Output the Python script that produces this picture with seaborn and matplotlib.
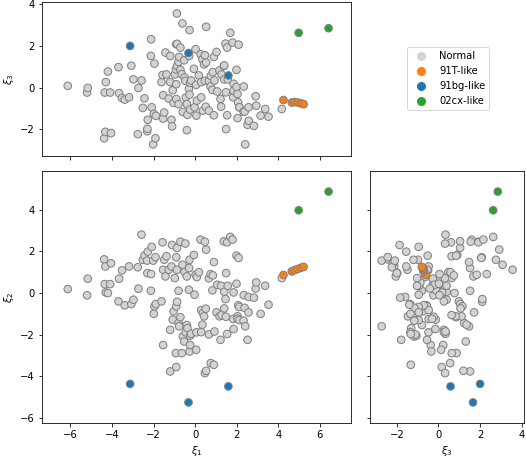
import numpy as np
import pandas as pd
import matplotlib
matplotlib.use("Agg")
import matplotlib.pyplot as plt
from matplotlib.lines import Line2D
import seaborn as sns

# normal SNe: latent coordinates
xi1 = [-6.13, -5.2, -5.17, -4.38, -4.35, -4.32, -4.3, -4.2, -4.09, -4.05,
       -3.69, -3.66, -3.52, -3.39, -3.18, -3.07, -2.97, -2.76, -2.73, -2.58,
       -2.52, -2.44, -2.31, -2.3, -2.28, -2.13, -2.12, -2.09, -2.02, -1.99,
       -1.96, -1.91, -1.89, -1.62, -1.57, -1.54, -1.54, -1.49, -1.43, -1.38,
       -1.27, -1.2, -1.2, -1.14, -1.11, -1.08, -1.04, -0.98, -0.93, -0.91,
       -0.91, -0.91, -0.88, -0.87, -0.87, -0.8, -0.8, -0.77, -0.71, -0.71,
       -0.64, -0.61, -0.59, -0.53, -0.51, -0.47, -0.45, -0.4, -0.4, -0.37,
       -0.3, -0.29, -0.27, -0.27, -0.24, -0.24, -0.19, -0.06, -0.03, 0.02,
       0.05, 0.06, 0.08, 0.18, 0.26, 0.29, 0.29, 0.35, 0.37, 0.43,
       0.47, 0.47, 0.51, 0.53, 0.53, 0.66, 0.66, 0.74, 0.75, 0.83,
       0.85, 0.9, 0.9, 0.93, 1.03, 1.06, 1.17, 1.22, 1.25, 1.27,
       1.38, 1.4, 1.4, 1.46, 1.48, 1.49, 1.54, 1.54, 1.57, 1.69,
       1.8, 1.83, 1.85, 1.85, 1.99, 1.99, 2.04, 2.04, 2.07, 2.09,
       2.13, 2.13, 2.33, 2.34, 2.38, 2.41, 2.52, 2.57, 2.58, 2.83,
       2.91, 2.94, 3.15, 3.37, 3.53, 4.17]
xi2 = [0.19, -0.11, 0.69, 1.62, 0.43, 1.28, 0.03, 0.0, 0.43, 1.43,
       -0.4, 0.69, 1.09, -0.59, 1.28, -0.53, -0.32, 1.24, 0.21, 2.81,
       1.6, 1.8, 1.56, 0.96, 1.99, 0.11, 0.91, 2.22, 1.56, -1.0,
       -0.64, 1.73, -0.53, -0.4, 2.44, 1.12, -2.5, 1.6, 0.8, 1.77,
       1.12, -1.77, -3.77, 1.28, 2.31, -1.28, -0.88, 0.72, -2.89, 1.72,
       -3.56, -0.64, 1.12, 2.17, -0.42, 0.11, -1.44, -1.6, 2.47, -1.16,
       -2.89, 1.36, -2.09, -2.33, 1.01, 2.38, -1.89, 0.8, -1.54, -1.69,
       0.16, 1.2, 1.6, -2.81, -2.05, -2.5, -1.96, 1.83, -0.08, 0.88,
       -2.73, -1.89, 0.77, 1.0, 2.57, -0.82, -1.88, -1.52, -0.96, -1.12,
       2.47, -3.85, -0.75, 2.09, -3.74, 0.71, -1.99, 0.91, -3.37, 0.13,
       0.85, 1.49, -3.45, -1.85, -0.93, 0.4, -1.12, -2.25, 0.35, -1.06,
       2.49, 0.06, -0.74, -0.29, -1.14, 0.96, 2.44, -1.97, 0.35, 2.7,
       2.57, -1.25, 0.03, -1.73, 0.45, 1.8, -1.12, -1.24, -0.59, 1.69,
       -0.67, -1.3, -1.33, -0.1, -0.71, -1.6, -2.25, -0.93, -0.19, -0.22,
       0.22, 0.51, -1.0, 0.35, -0.56, 0.72]
xi3 = [0.08, -0.24, -0.02, -2.44, -0.24, -2.13, 0.26, 0.77, -0.24, -2.19,
       0.98, -0.27, -0.5, -0.58, -0.47, 1.05, 0.39, -2.24, -0.02, 0.34,
       -0.98, -0.52, -2.1, -1.98, -1.55, 1.52, 2.32, -0.95, -2.73, -1.27,
       1.15, -2.44, -1.36, 0.26, 0.6, -1.49, -0.37, -1.2, 1.68, 0.63,
       -0.53, 0.26, 1.52, -1.55, -1.87, -0.13, -0.74, 0.63, 0.87, 2.08,
       0.16, -0.55, 3.56, 1.04, 2.1, -0.8, 1.23, 1.47, 1.92, 0.85,
       0.64, 3.08, -1.18, 1.31, 0.48, 0.32, -0.48, -2.05, -0.79, -1.31,
       -0.06, 1.52, 2.76, -0.34, -1.06, 0.23, 0.34, 0.9, -0.95, 1.84,
       0.13, -1.35, -0.63, 0.58, 1.6, -0.47, 0.26, 1.35, -1.11, 1.11,
       1.55, 0.32, -0.92, 2.92, 1.2, 0.31, -1.11, 0.05, 0.56, -0.11,
       0.74, 1.47, -1.33, 0.34, 1.71, -0.19, 0.82, -0.55, -0.92, 0.63,
       1.04, 0.39, 1.06, 2.11, -0.23, -2.0, 1.92, -1.33, 0.39, 2.63,
       2.16, -0.47, 0.18, -0.15, 0.02, 0.85, -1.47, -0.31, -0.71, 2.06,
       -0.95, -0.95, -1.16, 0.05, -1.16, -2.73, -1.79, -0.95, -1.6, -1.84,
       -0.42, -0.87, -1.35, -1.03, -1.4, -1.03]

# peculiar subclasses
t91_xi1 = [4.25, 4.65, 4.78, 4.94, 5.1, 5.22]
t91_xi2 = [0.87, 1.04, 1.1, 1.16, 1.22, 1.26]
t91_xi3 = [-0.6, -0.72, -0.7, -0.72, -0.76, -0.8]
bg91_xi1 = [-3.13, -0.32, 1.6]
bg91_xi2 = [-4.37, -5.26, -4.49]
bg91_xi3 = [2.0, 1.66, 0.58]
cx02_xi1 = [4.98, 6.42]
cx02_xi2 = [3.98, 4.88]
cx02_xi3 = [2.63, 2.85]

classes = ["Normal", "91T-like", "91bg-like", "02cx-like"]
colors = {"Normal": "lightgray", "91T-like": "C1", "91bg-like": "C0", "02cx-like": "C2"}

df = pd.concat([
    pd.DataFrame({"xi1": xi1, "xi2": xi2, "xi3": xi3, "type": "Normal"}),
    pd.DataFrame({"xi1": t91_xi1, "xi2": t91_xi2, "xi3": t91_xi3, "type": "91T-like"}),
    pd.DataFrame({"xi1": bg91_xi1, "xi2": bg91_xi2, "xi3": bg91_xi3, "type": "91bg-like"}),
    pd.DataFrame({"xi1": cx02_xi1, "xi2": cx02_xi2, "xi3": cx02_xi3, "type": "02cx-like"}),
], ignore_index=True)

W, H = 526, 457
fig = plt.figure(figsize=(W / 72, H / 72), dpi=72)

def px_axes(x0, y0, x1, y1):
    return fig.add_axes([x0 / W, 1 - y1 / H, (x1 - x0) / W, (y1 - y0) / H])

ax13 = px_axes(42, 2, 351, 156)
ax12 = px_axes(42, 171, 351, 423)
ax32 = px_axes(370, 171, 524, 423)

kw = dict(hue="type", hue_order=classes, palette=colors, s=58,
          edgecolor="gray", linewidth=1, legend=False)
for ax, x, y in [(ax13, "xi1", "xi3"), (ax12, "xi1", "xi2"), (ax32, "xi3", "xi2")]:
    sns.scatterplot(data=df, x=x, y=y, ax=ax, **kw)

xlim1 = (-7.37, 7.5)
ylim2 = (-6.25, 5.87)
lim3 = (-3.29, 4.11)

ax13.set_xlim(xlim1)
ax13.set_ylim(lim3)
ax13.set_xticks(range(-6, 7, 2))
ax13.set_xticklabels([])
ax13.set_yticks(range(-2, 5, 2))
ax13.set_xlabel("")
ax13.set_ylabel(r"$\xi_3$")

ax12.set_xlim(xlim1)
ax12.set_ylim(ylim2)
ax12.set_xticks(range(-6, 7, 2))
ax12.set_yticks(range(-6, 5, 2))
ax12.set_xlabel(r"$\xi_1$")
ax12.set_ylabel(r"$\xi_2$")

ax32.set_xlim(lim3)
ax32.set_ylim(ylim2)
ax32.set_xticks(range(-2, 5, 2))
ax32.set_yticks(range(-6, 5, 2))
ax32.set_yticklabels([])
ax32.set_xlabel(r"$\xi_3$")
ax32.set_ylabel("")

handles = [Line2D([], [], marker="o", linestyle="", markersize=8,
                  markerfacecolor=colors[c], markeredgecolor=colors[c]) for c in classes]
fig.legend(handles, classes, loc="center", bbox_to_anchor=(448 / W, 1 - 78.5 / H))

fig.savefig("out.png", dpi=72)
